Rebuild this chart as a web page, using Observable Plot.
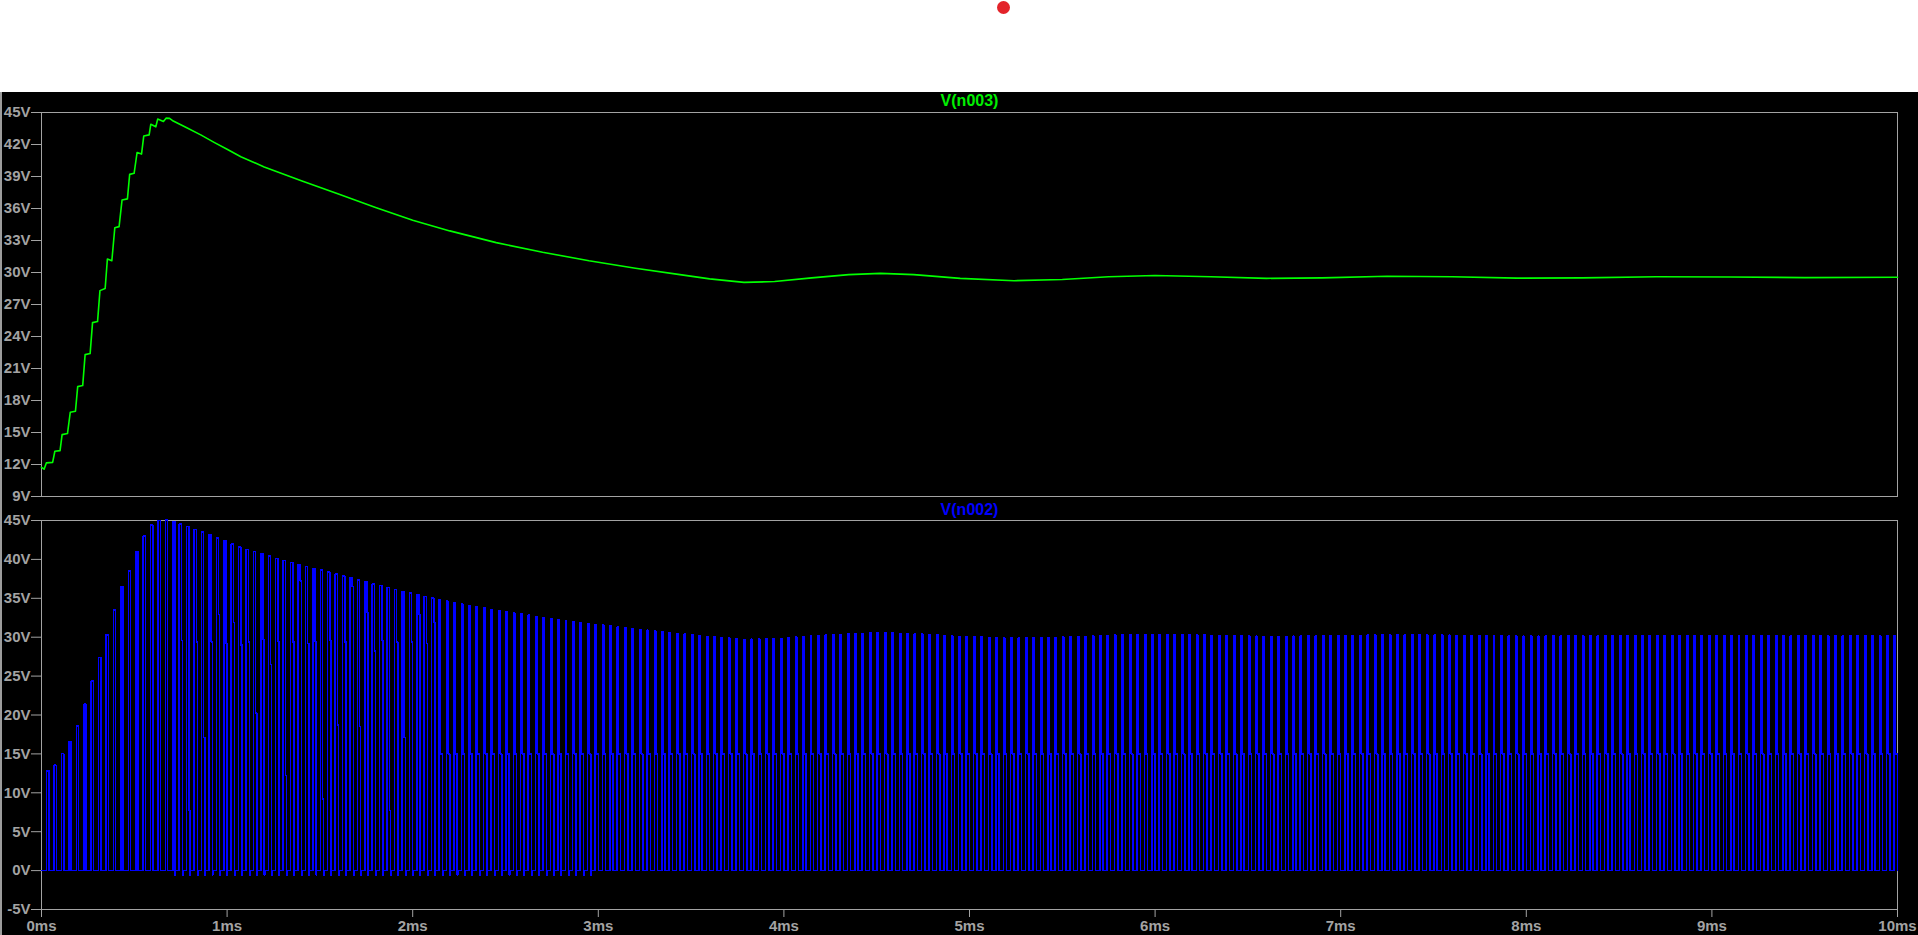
<!DOCTYPE html>
<html><head><meta charset="utf-8">
<script src="https://cdn.jsdelivr.net/npm/d3@7"></script>
<script src="https://cdn.jsdelivr.net/npm/@observablehq/plot@0.6"></script>
<style>
html,body{margin:0;padding:0;background:#fff;}
body{width:1918px;height:935px;overflow:hidden;position:relative;font-family:"Liberation Sans",Arial,sans-serif;}
#dot{position:absolute;left:997px;top:1px;width:13px;height:13px;border-radius:50%;background:#e3232a;}
#scope{position:absolute;left:0;top:92px;width:1918px;height:843px;background:#000;overflow:hidden;}
#edge{position:absolute;left:0;top:0;bottom:0;width:2px;background:#9c9c9c;}
#scope svg{display:block;}
#scope svg + svg{margin-top:-20px;}
</style></head>
<body>
<div id="dot"></div>
<div id="scope"><div id="plots"></div><div id="edge"></div></div>
<script>
// ---- data ----
const timeTicksMs = [0, 1, 2, 3, 4, 5, 6, 7, 8, 9, 10];
const n003Ticks = [9, 12, 15, 18, 21, 24, 27, 30, 33, 36, 39, 42, 45];
const n002Ticks = [-5, 0, 5, 10, 15, 20, 25, 30, 35, 40, 45];

// V(n003): output node, time in ms, voltage in V
const n003Time = [0, 0.014, 0.026, 0.06, 0.072, 0.10, 0.111, 0.14, 0.155, 0.183, 0.195, 0.222, 0.235, 0.262,
  0.275, 0.302, 0.315, 0.343, 0.355, 0.379, 0.395, 0.418, 0.434, 0.463, 0.475, 0.499, 0.515, 0.539, 0.551,
  0.58, 0.589, 0.616, 0.626, 0.657, 0.671, 0.69, 0.71, 0.78, 0.858, 0.93, 1.0, 1.074, 1.2, 1.4, 1.6, 1.8, 2.0,
  2.2, 2.45, 2.7, 2.95, 3.2, 3.44, 3.6, 3.785, 3.95, 4.15, 4.35, 4.52, 4.7, 4.95, 5.24, 5.5, 5.75, 6.0,
  6.3, 6.6, 6.9, 7.25, 7.6, 7.95, 8.3, 8.7, 9.1, 9.5, 10];
const n003Volt = [11.74, 11.56, 12.15, 12.2, 13.24, 13.3, 14.8, 14.9, 16.9, 17.0, 19.3, 19.4, 22.3, 22.4,
  25.3, 25.4, 28.3, 28.5, 31.27, 31.1, 34.2, 34.3, 36.8, 36.9, 39.2, 39.3, 41.25, 41.1, 42.8,
  42.9, 43.9, 43.66, 44.38, 44.16, 44.47, 44.45, 44.2, 43.6, 42.9, 42.2, 41.55, 40.85, 39.9, 38.6, 37.35, 36.1, 34.9,
  33.9, 32.8, 31.9, 31.1, 30.4, 29.8, 29.4, 29.07, 29.15, 29.5, 29.8, 29.92, 29.8, 29.45, 29.23, 29.35, 29.6, 29.72,
  29.6, 29.45, 29.5, 29.65, 29.6, 29.47, 29.5, 29.6, 29.58, 29.52, 29.55];

// V(n002): switch node (square wave), read timings and levels
const switchPeriodMs = 0.04;
const switchCycles = 250;
const diodeDropV = 0.65;
const ccmEndMs = 0.71;          // before this: no ringing level
const ringListEndMs = 2.1;      // ringing levels vary until here
const undershootEndMs = 2.98;   // small negative spikes until here
const undershootV = -0.6;
const onFractionCCM = 0.7, onFractionDCM = 0.55;
const highFractionEarly = 0.3, highFractionLate = 0.2;
const ringLevelsTransient = [29.4, 20.25, 29.7, 26.5, 29.4, 12.2, 29.4, 37.2, 29.2, 29.4, 9.2, 29.6, 18.7,
  29.4, 36.5, 18.5, 33.2, 28.2, 29.6, 7.7, 29.4, 17.1, 29.4, 32.9, 29.2, 31.9, 29.0];
const ringLevelSteady = 15;

// ---- build tables ----
const n003 = n003Time.map((t, i) => ({t, v: n003Volt[i]}));
const bis = d3.bisector(d => d.t).left;
function n003At(t) {
  const i = Math.min(Math.max(bis(n003, t), 1), n003.length - 1);
  const a = n003[i - 1], b = n003[i];
  return a.v + (b.v - a.v) * (t - a.t) / (b.t - a.t);
}
const n002 = [];
for (let k = 0; k < switchCycles; k++) {
  const t0 = k * switchPeriodMs;
  const dip = t0 >= ccmEndMs && t0 <= undershootEndMs;
  if (dip) { n002.push({t: t0, v: undershootV}); n002.push({t: t0 + 0.003, v: 0}); }
  else n002.push({t: t0, v: 0});
  const ccm = t0 < ccmEndMs;
  const tOff = t0 + (ccm ? onFractionCCM : onFractionDCM) * switchPeriodMs;
  const high = n003At(tOff) + diodeDropV;
  n002.push({t: tOff, v: high});
  if (!ccm) {
    const ring = t0 < ringListEndMs ? ringLevelsTransient[k % ringLevelsTransient.length] : ringLevelSteady;
    const hf = t0 < ringListEndMs ? highFractionEarly : highFractionLate;
    n002.push({t: tOff + hf * switchPeriodMs, v: Math.min(ring, high)});
  }
}
n002.push({t: 10, v: 0});

// ---- plots ----
const grey = "#a3a3a3";
const baseStyle = {background: "transparent", color: grey, fontSize: "15px", fontWeight: "bold",
  fontFamily: "'Liberation Sans', Arial, sans-serif"};

const topPlot = Plot.plot({
  width: 1918, height: 420, marginLeft: 41, marginRight: 21, marginTop: 20, marginBottom: 16,
  style: baseStyle,
  x: {domain: [0, 10], axis: null},
  y: {domain: [9, 45], ticks: n003Ticks, tickFormat: d => d + "V", tickSize: 10, tickPadding: 1, label: null},
  marks: [
    Plot.frame({stroke: grey}),
    Plot.line(n003, {x: "t", y: "v", stroke: "#00ff00", strokeWidth: 1.6}),
    Plot.text(["V(n003)"], {text: d => d, frameAnchor: "top", lineAnchor: "middle", dy: -12, fill: "#00f000", fontWeight: "bold", fontSize: 16})
  ]
});

const bottomPlot = Plot.plot({
  width: 1918, height: 443, marginLeft: 41, marginRight: 21, marginTop: 28, marginBottom: 26,
  style: baseStyle,
  x: {domain: [0, 10], ticks: timeTicksMs, tickFormat: d => d + "ms", tickSize: 8, tickPadding: 3, label: null},
  y: {domain: [-5, 45], ticks: n002Ticks, tickFormat: d => d + "V", tickSize: 10, tickPadding: 1, label: null},
  marks: [
    Plot.frame({stroke: grey}),
    Plot.line(n002, {x: "t", y: "v", stroke: "#0000ff", strokeWidth: 1.5, curve: "step-after", shapeRendering: "crispEdges"}),
    Plot.text(["V(n002)"], {text: d => d, frameAnchor: "top", lineAnchor: "middle", dy: -11, fill: "#0000ff", fontWeight: "bold", fontSize: 16})
  ]
});

document.getElementById("plots").append(topPlot, bottomPlot);
</script>
</body></html>
